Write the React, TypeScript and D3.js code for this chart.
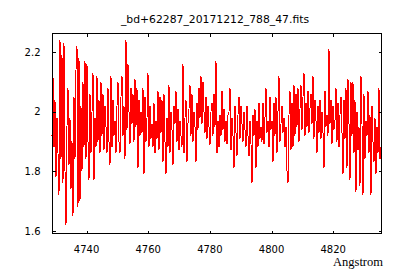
import React from "react";
import * as d3 from "d3";

const title = "_bd+62287_20171212_788_47.fits";
const xLabel = "Angstrom";
const xTicks = [4740, 4760, 4780, 4800, 4820];
const yTicks = [1.6, 1.8, 2.0, 2.2];
const yTickLabels = ["1.6", "1.8", "2", "2.2"];
const xDomain = [4728.8, 4835.5];
const yDomain = [1.593, 2.264];
const wlStart = 4728.8;
const wlEnd = 4835.5;

const flux = [
  1.92, 2.12, 1.88, 2.04, 1.78, 1.98, 1.86, 1.72, 2.24, 1.84,
  2.19, 1.76, 2.23, 1.80, 1.62, 1.95, 2.08, 1.82, 1.98, 1.74,
  1.90, 1.65, 2.05, 1.84, 2.14, 2.22, 1.68, 2.18, 1.70, 2.02,
  1.80, 2.10, 1.88, 2.17, 1.84, 2.16, 1.90, 1.77, 2.06, 1.86,
  2.00, 2.13, 1.77, 1.98, 1.88, 2.12, 1.90, 2.04, 1.86, 2.10,
  1.92, 2.06, 1.87, 2.02, 1.95, 1.86, 2.08, 1.90, 1.82, 2.12,
  1.88, 2.04, 1.92, 1.97, 1.86, 2.02, 2.10, 1.90, 1.86, 2.05,
  2.12, 1.92, 2.02, 1.84, 2.24, 1.94, 2.16, 2.00, 1.89, 2.08,
  1.96, 2.06, 1.90, 2.11, 1.95, 2.08, 1.81, 2.04, 1.92, 2.00,
  1.93, 2.08, 1.79, 2.05, 1.90, 1.98, 2.13, 1.88, 2.02, 1.91,
  1.96, 1.88, 2.03, 1.86, 1.97, 1.91, 2.07, 1.87, 2.05, 1.93,
  2.04, 1.83, 2.06, 1.90, 1.79, 1.98, 1.88, 2.09, 1.86, 2.00,
  1.94, 1.82, 2.02, 1.96, 2.07, 1.90, 2.01, 1.87, 1.97, 1.92,
  1.88, 2.16, 1.86, 1.98, 2.04, 1.83, 1.96, 2.01, 2.09, 1.92,
  2.06, 1.90, 2.00, 1.95, 1.83, 2.03, 1.94, 2.08, 1.98, 2.12,
  1.96, 2.10, 2.00, 1.93, 2.05, 1.91, 2.02, 1.95, 1.89, 2.00,
  2.03, 1.92, 2.06, 1.95, 2.17, 1.86, 1.97, 1.88, 1.99, 1.92,
  2.07, 1.94, 2.01, 1.90, 1.97, 1.89, 1.99, 2.00, 2.08, 1.87,
  1.98, 1.92, 1.81, 2.02, 1.93, 1.85, 1.99, 2.05, 1.91, 2.02,
  1.96, 1.90, 2.00, 1.94, 1.88, 2.02, 1.92, 1.85, 1.97, 1.89,
  1.76, 1.99, 1.92, 2.01, 1.81, 1.97, 1.88, 2.03, 1.91, 1.95,
  1.90, 2.03, 1.89, 1.98, 2.08, 1.93, 1.97, 1.88, 2.05, 1.94,
  1.97, 1.83, 2.03, 1.92, 2.05, 1.86, 2.00, 2.12, 1.90, 1.96,
  2.02, 1.93, 1.98, 1.88, 1.95, 1.80, 1.76, 1.99, 2.07, 1.87,
  2.03, 1.88, 2.09, 1.92, 2.06, 1.95, 2.08, 1.90, 2.01, 2.09,
  1.94, 2.05, 2.13, 1.92, 2.03, 1.95, 2.07, 1.93, 2.01, 2.06,
  1.96, 2.12, 1.91, 2.04, 1.97, 1.86, 2.02, 1.93, 2.04, 1.91,
  2.00, 1.93, 1.81, 2.07, 1.95, 1.99, 1.92, 2.21, 1.96, 2.04,
  1.89, 2.02, 1.94, 1.97, 2.08, 1.90, 2.03, 1.88, 1.99, 2.05,
  1.93, 1.79, 2.04, 1.91, 2.08, 1.81, 2.11, 1.96, 1.77, 2.10,
  1.92, 2.10, 1.86, 2.04, 1.73, 2.00, 1.87, 1.95, 1.75, 2.12,
  1.96, 1.72, 2.06, 1.84, 1.97, 1.92, 2.07, 1.86, 1.99, 1.72,
  2.02, 1.90, 1.83, 1.98, 1.79, 1.95, 1.86, 2.08, 1.84, 1.88,
];

const W = 400;
const H = 280;
const L = 52;
const R = 381;
const T = 33;
const B = 233;

export default function App() {
  const x = d3.scaleLinear().domain(xDomain).range([L, R]);
  const y = d3.scaleLinear().domain(yDomain).range([B, T]);
  const step = (wlEnd - wlStart) / (flux.length - 1);
  const pts: [number, number][] = flux.map((f, i) => [wlStart + i * step, f]);
  const line = d3
    .line<[number, number]>()
    .x((d) => x(d[0]))
    .y((d) => y(d[1]));
  const tickFont = "DejaVu Sans, sans-serif";
  return (
    <svg
      width={W}
      height={H}
      style={{ position: "absolute", left: 0, top: 0, background: "#fff" }}
    >
      <rect x={0} y={0} width={W} height={H} fill="#fff" />
      <text
        x={215}
        y={22.5}
        textAnchor="middle"
        fontFamily={tickFont}
        fontSize={10.8}
        fill="#000"
      >
        {title}
      </text>
      <path
        d={line(pts) || ""}
        fill="none"
        stroke="#ff0000"
        strokeWidth={1}
        shapeRendering="crispEdges"
      />
      <g shapeRendering="crispEdges" stroke="#000" strokeWidth={1}>
        <rect x={L + 0.5} y={T + 0.5} width={R - L} height={B - T} fill="none" />
        {xTicks.map((t) => (
          <g key={"x" + t}>
            <line x1={Math.round(x(t)) + 0.5} x2={Math.round(x(t)) + 0.5} y1={B + 0.5} y2={B - 2.5} />
            <line x1={Math.round(x(t)) + 0.5} x2={Math.round(x(t)) + 0.5} y1={T + 0.5} y2={T + 3.5} />
          </g>
        ))}
        {yTicks.map((t) => (
          <g key={"y" + t}>
            <line x1={L + 0.5} x2={L + 3.5} y1={Math.round(y(t)) + 0.5} y2={Math.round(y(t)) + 0.5} />
            <line x1={R + 0.5} x2={R - 2.5} y1={Math.round(y(t)) + 0.5} y2={Math.round(y(t)) + 0.5} />
          </g>
        ))}
      </g>
      {xTicks.map((t) => (
        <text
          key={"xl" + t}
          x={x(t)}
          y={252.7}
          textAnchor="middle"
          fontFamily={tickFont}
          fontSize={10}
          fill="#000"
        >
          {t}
        </text>
      ))}
      {yTicks.map((t, i) => (
        <text
          key={"yl" + t}
          x={40.5}
          y={y(t) + 3.7}
          textAnchor="end"
          fontFamily={tickFont}
          fontSize={10}
          fill="#000"
        >
          {yTickLabels[i]}
        </text>
      ))}
      <text
        x={383}
        y={265.7}
        textAnchor="end"
        fontFamily="Liberation Serif, serif"
        fontSize={12.5}
        fill="#000"
      >
        {xLabel}
      </text>
    </svg>
  );
}
